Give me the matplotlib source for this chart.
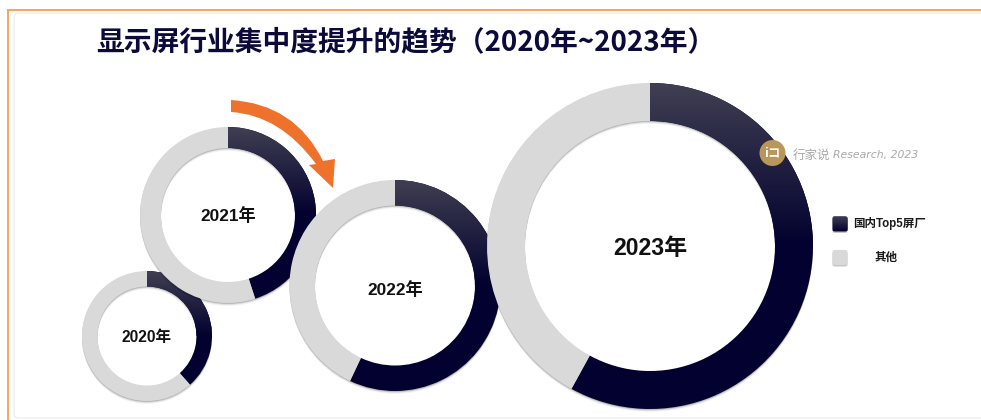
import numpy as np
import matplotlib
matplotlib.use("Agg")
import matplotlib.pyplot as plt
from matplotlib.patches import Wedge, FancyBboxPatch, PathPatch, Circle
from matplotlib.path import Path
from matplotlib.colors import LinearSegmentedColormap

plt.rcParams['font.family'] = ['Noto Sans CJK SC', 'DejaVu Sans']
LABEL_FONT = ['Liberation Sans', 'Noto Sans CJK SC']

TITLE = "显示屏行业集中度提升的趋势（2020年~2023年）"
years = ["2020年", "2021年", "2022年", "2023年"]
top5_share = [38.5, 45, 57, 58]
other_share = [61.5, 55, 43, 42]
legend_labels = ["国内Top5屏厂", "其他"]
source_cn = "行家说"
source_en = "Research, 2023"

# layout in reference pixels
centers_x = [147, 228, 395, 650]
centers_y = [336, 215, 285.5, 246]
radii = [65, 88, 105.5, 163]
widths = [15.5, 21, 25.5, 38]
label_x = [146, 228, 395.5, 650]
label_y = [337.5, 216, 289.5, 248.5]
label_sizes = [11.2, 12.4, 12.4, 16.6]

W, H = 981, 420
DARK = "#02012f"
TOP = "#403f52"
GREY = "#d9d9d9"
cmap = LinearSegmentedColormap.from_list("d", [TOP, DARK])
grad = np.linspace(0, 1, 256).reshape(-1, 1)


def Y(py):
    return H - py


fig = plt.figure(figsize=(W / 100, H / 100), dpi=100)
ax = fig.add_axes([0, 0, 1, 1])

# frame
ax.add_patch(FancyBboxPatch((14, Y(418)), W + 30, 405, boxstyle="round,pad=0,rounding_size=5",
                            fc="white", ec="#eeeeee", lw=1, zorder=0))
ax.plot([8, 8, W], [0, Y(10), Y(10)], color="#f7a35c", lw=1.4, zorder=1, solid_joinstyle="miter")

for i, year in enumerate(years):
    cx, cy, r, w = centers_x[i], Y(centers_y[i]), radii[i], widths[i]
    z = 2 + i * 2
    for off, a in [(0.7, .14), (1.4, .10), (2.2, .06), (3.0, .03)]:
        ax.add_patch(Wedge((cx, cy - off), r, 0, 360, width=w, fc="black", alpha=a, ec="none", zorder=z))
    wedges, _ = ax.pie([top5_share[i], other_share[i]], radius=r, center=(cx, cy),
                       startangle=90, counterclock=False, colors=[DARK, GREY],
                       wedgeprops=dict(width=w, edgecolor="none", zorder=z + 1))
    im = ax.imshow(grad, extent=(cx - r, cx + r, cy, cy + r), cmap=cmap, aspect="auto",
                   origin="upper", zorder=z + 1.2)
    im.set_clip_path(wedges[0])
    ax.text(label_x[i], Y(label_y[i]), year, ha="center", va="center", fontsize=label_sizes[i],
            fontweight="bold", color="#111111", family=LABEL_FONT, zorder=20)

# trend arrow
verts = [(231, 100), (295, 104), (323, 161), (335, 159), (333, 188), (309, 165), (316, 164),
         (280, 115), (231, 112), (231, 100)]
codes = [Path.MOVETO, Path.CURVE3, Path.CURVE3, Path.LINETO, Path.LINETO, Path.LINETO, Path.LINETO,
         Path.CURVE3, Path.CURVE3, Path.CLOSEPOLY]
ax.add_patch(PathPatch(Path([(x, Y(y)) for x, y in verts], codes), fc="#ef722c", ec="none", zorder=15))

# title
ax.text(96, Y(42), TITLE, fontsize=20, fontweight="bold", color="#0b0a3a", ha="left", va="center", zorder=20)

# watermark
ax.add_patch(Circle((772.5, Y(153)), 13, fc="#b9975b", ec="none", zorder=16))
ax.text(772.5, Y(153), "iコ", fontsize=9, fontweight="bold", color="white", ha="center", va="center", zorder=17)
ax.text(793, Y(155), source_cn, fontsize=9, color="#a8a8a8", ha="left", va="center", zorder=17)
ax.text(833, Y(155), source_en, fontsize=7.8, color="#a8a8a8", ha="left", va="center", style="italic",
        family="DejaVu Sans", zorder=17)

# legend
for py, col in [(224, None), (257.5, GREY)]:
    ax.add_patch(FancyBboxPatch((832.5, Y(py) - 7.5 - 1.5), 15, 15, boxstyle="round,pad=0,rounding_size=2",
                                fc="black", alpha=.22, ec="none", zorder=16))
    box = FancyBboxPatch((832.5, Y(py) - 7.5), 15, 15, boxstyle="round,pad=0,rounding_size=2",
                         fc=col or DARK, ec="none", zorder=17)
    ax.add_patch(box)
    if col is None:
        im = ax.imshow(grad, extent=(832.5, 847.5, Y(py) - 7.5, Y(py) + 7.5), cmap=cmap, aspect="auto",
                       origin="upper", zorder=17.5)
        im.set_clip_path(box)
ax.text(890, Y(224), legend_labels[0], fontsize=8.3, fontweight="bold", color="#1a1a1a", family=LABEL_FONT,
        ha="center", va="center", zorder=17)
ax.text(886.5, Y(257.5), legend_labels[1], fontsize=8.3, fontweight="bold", color="#1a1a1a", family=LABEL_FONT,
        ha="center", va="center", zorder=17)

ax.set_xlim(0, W)
ax.set_ylim(0, H)
ax.set_aspect("auto")
ax.axis("off")
fig.savefig("out.png", dpi=100)
